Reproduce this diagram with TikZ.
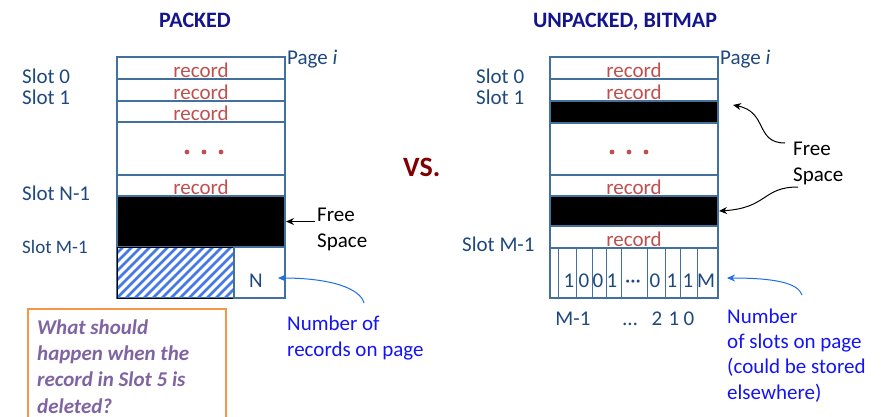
\documentclass[tikz,border=0pt]{standalone}
\usepackage{fontspec}
\setmainfont{Carlito}
\usetikzlibrary{arrows.meta}
\definecolor{boxblue}{RGB}{65,113,156}
\definecolor{slotblue}{RGB}{31,73,125}
\definecolor{recred}{RGB}{192,80,77}
\definecolor{titlenavy}{RGB}{20,20,140}
\definecolor{vsred}{RGB}{128,0,0}
\definecolor{annblue}{RGB}{20,20,245}
\definecolor{arrblue}{RGB}{30,110,230}
\definecolor{qorange}{RGB}{247,150,70}
\definecolor{qpurple}{RGB}{128,100,162}
\definecolor{hatchblue}{RGB}{70,120,230}
\tikzset{
  row/.style={draw=boxblue, line width=1.2pt, minimum width=168pt, inner sep=0pt, outer sep=0pt, anchor=north west},
  freebar/.style={row, fill=black},
  rectxt/.style={font=\fontsize{21}{25}\selectfont, text=recred, anchor=base, inner sep=0pt},
  slotlbl/.style={font=\fontsize{21}{25}\selectfont, text=slotblue, anchor=base west, inner sep=0pt},
  ann/.style={font=\fontsize{21}{26}\selectfont, align=left, anchor=base west, inner sep=0pt},
  titletxt/.style={font=\fontsize{22}{26}\selectfont\bfseries, text=titlenavy, anchor=base, inner sep=0pt},
  blk/.style={-{Stealth[length=8pt,width=7pt]}, line width=1pt, black},
  blu/.style={-{Stealth[length=8pt,width=7pt]}, line width=1pt, arrblue},
  stripe/.style={hatchblue, line width=2.6pt},
  bitline/.style={boxblue, line width=1pt},
}
\begin{document}
\begin{tikzpicture}[x=1pt,y=-1pt]
\useasboundingbox[fill=white] (0,0) rectangle (890,416);

% titles
\node[titletxt] (tpacked) at (195,27) {PACKED};
\node[titletxt] (tunpacked) at (625,27) {UNPACKED, BITMAP};
\node[font=\fontsize{28}{32}\selectfont\bfseries, text=vsred, anchor=base west, inner sep=0pt] (vs) at (403,176) {VS.};

% ---------- left page ----------
\node[row, minimum height=22pt] (L0) at (117,57) {};
\node[row, minimum height=22pt] (L1) at (117,79) {};
\node[row, minimum height=21pt] (L2) at (117,101) {};
\node[row, minimum height=53pt] (Ld) at (117,122) {};
\node[row, minimum height=21pt] (Ln) at (117,175) {};
\node[freebar, minimum height=51pt] (Lf) at (117,196) {};
\node[row, minimum height=51pt] (Lb) at (117,247) {};
\begin{scope}
  \clip (117,247) rectangle (234,298);
  \foreach \i in {-6,...,13} \draw[stripe] ({117+9*\i},298) -- ++(51,-51);
\end{scope}
\node[draw=black, line width=1pt, minimum width=117pt, minimum height=51pt, inner sep=0pt, anchor=north west] (Lh) at (117,247) {};
\node[row, minimum width=51pt, minimum height=51pt] (Ncell) at (234,247) {};
\node[slotlbl, anchor=base] (Ntxt) at (256,287) {N};

\node[rectxt] (lr0) at ([yshift=2pt]L0.south) {record};
\node[rectxt] (lr1) at ([yshift=2pt]L1.south) {record};
\node[rectxt] (lr2) at ([yshift=1.5pt]L2.south) {record};
\node[rectxt] (lrn) at ([yshift=1.5pt]Ln.south) {record};
\foreach \x in {187,204,221} \fill[recred] (\x,152) circle (2.4pt);

\node[slotlbl] (ls0) at (22,83) {Slot 0};
\node[slotlbl] (ls1) at (22,104) {Slot 1};
\node[slotlbl] (lsn) at (22,200) {Slot N-1};
\node[slotlbl, font=\fontsize{19}{23}\selectfont] (lsm) at (22,253) {Slot M-1};
\node[slotlbl] (lpage) at (287,64) {Page \textit{i}};

\node[ann] (lfree) at (317,247) {Free\\Space};
\node[ann, text=annblue] (lnum) at (287,356) {Number of\\records on page};

\draw[blk] ([xshift=-2pt]lfree.west |- Lf.east) -- ([xshift=1pt]Lf.east);
\draw[blu] ([xshift=77pt,yshift=53pt]lnum.base west) .. controls (360,288) and (330,278) .. ([xshift=-7pt,yshift=-5.5pt]Ncell.east);

% question box
\node[draw=qorange, line width=2pt, minimum width=198pt, minimum height=140pt, inner sep=0pt, anchor=north west] (qbox) at (27,308) {};
\node[ann, font=\fontsize{21}{26.3}\selectfont\bfseries\itshape, text=qpurple] (qtext) at (37,413) {What should\\happen when the\\record in Slot 5 is\\deleted?};

% ---------- right page ----------
\node[row, minimum height=22pt] (R0) at (550,57) {};
\node[row, minimum height=22pt] (R1) at (550,79) {};
\node[freebar, minimum height=22pt] (Rf1) at (550,101) {};
\node[row, minimum height=52pt] (Rd) at (550,123) {};
\node[row, minimum height=21pt] (R3) at (550,175) {};
\node[freebar, minimum height=30pt] (Rf2) at (550,196) {};
\node[row, minimum height=22pt] (R4) at (550,226) {};
\node[row, minimum height=50pt] (Rb) at (550,248) {};
\foreach \x in {558,576,592,606,621,647,665,680,697} \draw[bitline] (\x,248) -- (\x,298);

\node[rectxt] (rr0) at ([yshift=2pt]R0.south) {record};
\node[rectxt] (rr1) at ([yshift=2pt]R1.south) {record};
\node[rectxt] (rr3) at ([yshift=1.5pt]R3.south) {record};
\node[rectxt] (rr4) at ([yshift=2pt]R4.south) {record};
\foreach \x in {612,629,646} \fill[recred] (\x,152) circle (2.4pt);

\foreach \x/\t [count=\k] in {569/1,584/0,598/0,612/1,633/{···},655/0,672/1,688/1,706/M}
  \node[slotlbl, anchor=base] (bit\k) at (\x,287) {\t};
\node[slotlbl, anchor=base] (lm1) at (573,325) {M-1};
\node[slotlbl, anchor=base] (lell) at (630,325) {…};
\node[slotlbl, anchor=base] (lii) at (657,325) {2};
\node[slotlbl, anchor=base] (li) at (674,325) {1};
\node[slotlbl, anchor=base] (lz) at (689,325) {0};

\node[slotlbl] (rs0) at (476,83) {Slot 0};
\node[slotlbl] (rs1) at (476,104) {Slot 1};
\node[slotlbl] (rsm) at (462,251) {Slot M-1};
\node[slotlbl] (rpage) at (720,64) {Page \textit{i}};

\node[ann] (rfree) at (793,181) {Free\\Space};
\node[ann, font=\fontsize{21}{25.3}\selectfont, text=annblue] (rnum) at (727,399) {Number\\of slots on page\\(could be stored\\elsewhere)};

\draw[blk] ([xshift=-8pt,yshift=38pt]rfree.base west) .. controls (755,143) and (768,112) .. ([xshift=15pt,yshift=7pt]Rf1.east);
\draw[blk] ([xshift=5pt,yshift=-6pt]rfree.base west) .. controls (762,187) and (768,208) .. ([xshift=1pt]Rf2.east);
\draw[blu] ([xshift=75pt,yshift=104pt]rnum.base west) .. controls (798,283) and (775,278) .. ([xshift=9pt,yshift=-5pt]Rb.east);
\end{tikzpicture}
\end{document}
